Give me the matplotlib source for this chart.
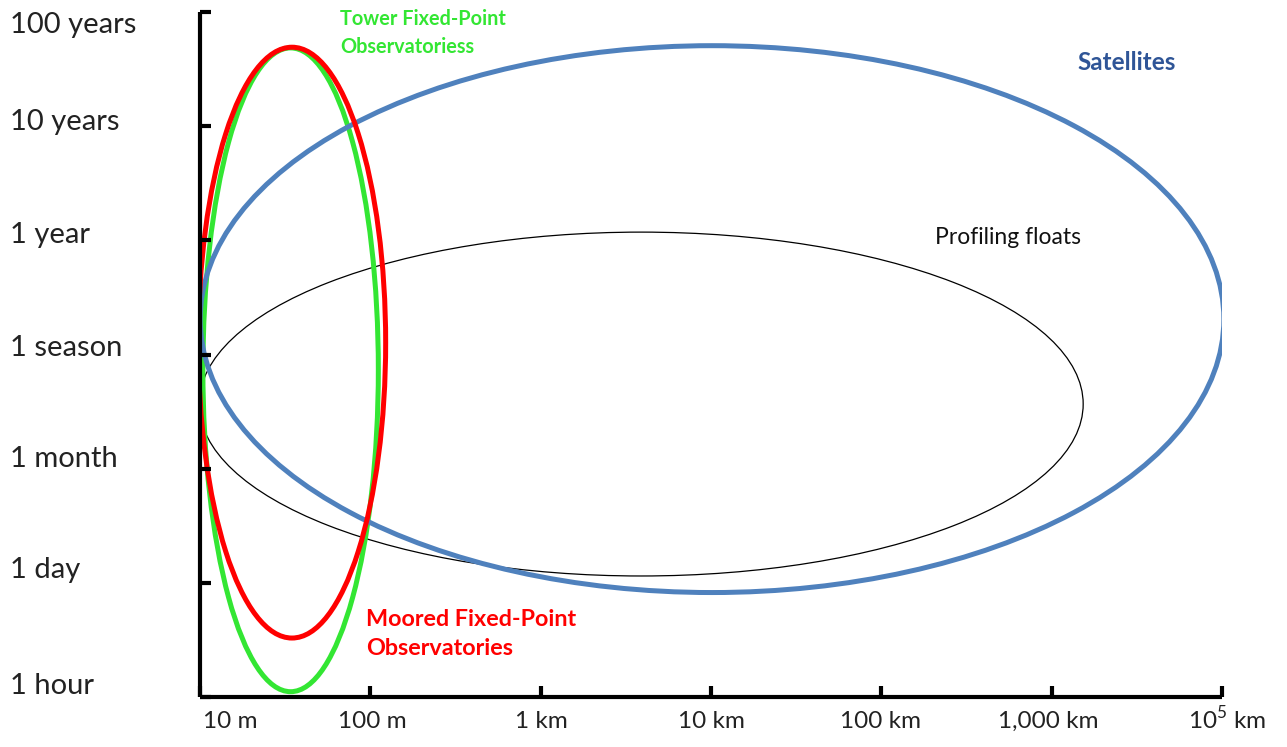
import matplotlib
matplotlib.use("Agg")
import matplotlib.pyplot as plt
from matplotlib.patches import Ellipse
from matplotlib.transforms import ScaledTranslation

# ---- data ----
x_labels = ["10 m", "100 m", "1 km", "10 km", "100 km", "1,000 km", r"10$^5$ km"]
y_labels = ["1 hour", "1 day", "1 month", "1 season", "1 year", "10 years", "100 years"]

# ellipses in axis units (decades of space, steps of time scale)
names = ["Tower Fixed-Point\nObservatoriess", "Moored Fixed-Point\nObservatories",
         "Satellites", "Profiling floats"]
centers_x = [0.532, 0.540, 3.006, 2.590]
centers_y = [2.866, 3.104, 3.310, 2.566]
widths = [1.030, 1.100, 6.010, 5.190]
heights = [5.639, 5.175, 4.790, 3.012]

colors = ["#33e633", "#ff0000", "#4f81bd", "#000000"]
lws = [3.6, 3.6, 3.6, 0.9]
zorders = [1.2, 1.4, 1.3, 1.1]

plt.rcParams['font.family'] = ['Lato', 'DejaVu Sans']
plt.rcParams['mathtext.fontset'] = 'custom'
plt.rcParams['mathtext.rm'] = 'Lato'
fig = plt.figure(figsize=(12.87, 7.47), dpi=100)
ax = fig.add_axes([200/1287, 50/747, 1022/1287, 685/747])
ax.set_xlim(0, 6)
ax.set_ylim(0, 6)

for cx, cy, w, h, c, lw, z in zip(centers_x, centers_y, widths, heights, colors, lws, zorders):
    ax.add_patch(Ellipse((cx, cy), w, h, fill=False, edgecolor=c, lw=lw, zorder=z))

for s in ["top", "right"]:
    ax.spines[s].set_visible(False)
for s in ["left", "bottom"]:
    ax.spines[s].set_linewidth(3.0)
    ax.spines[s].set_capstyle('butt')
    ax.spines[s].set_zorder(3)

ax.set_xticks(range(len(x_labels)))
ax.set_xticklabels(x_labels, fontsize=17.5, color="#222222")
ax.set_yticks(range(len(y_labels)))
ax.set_yticklabels(y_labels, fontsize=21, color="#222222", ha="left")
ax.tick_params(axis="both", direction="in", length=8, width=3.0, color="black")
ax.tick_params(axis="y", pad=137)
ax.tick_params(axis="x", pad=10)

y_off = [-14, -15, -12, -9, -8, -7, 10]   # px, positive = down
for lab, d in zip(ax.get_yticklabels(), y_off):
    lab.set_transform(lab.get_transform() + ScaledTranslation(0, -d/100, fig.dpi_scale_trans))
x_off = [30, 2, 1, 0, -1, -3, 5]
x_voff = [0, 0, 0, 0, 0, 0, 6]   # px, positive = up
for lab, d, v in zip(ax.get_xticklabels(), x_off, x_voff):
    lab.set_transform(lab.get_transform() + ScaledTranslation(d/100, v/100, fig.dpi_scale_trans))

# annotations (figure pixel positions)
def ftxt(px, py, s, **kw):
    fig.text(px/1287, 1 - py/747, s, **kw)

ftxt(340, 33, names[0], color="#33e633", fontsize=14.3, fontweight="bold",
     ha="left", va="center", linespacing=1.5)
ftxt(366, 634, names[1], color="#ff0000", fontsize=16.8, fontweight="bold",
     ha="left", va="center", linespacing=1.42)
ftxt(1077, 62, names[2], color="#2f5597", fontsize=17.5, fontweight="bold",
     ha="left", va="center")
ftxt(935, 238, names[3], color="#111111", fontsize=16.5,
     ha="left", va="center")

fig.savefig("out.png", dpi=100)
